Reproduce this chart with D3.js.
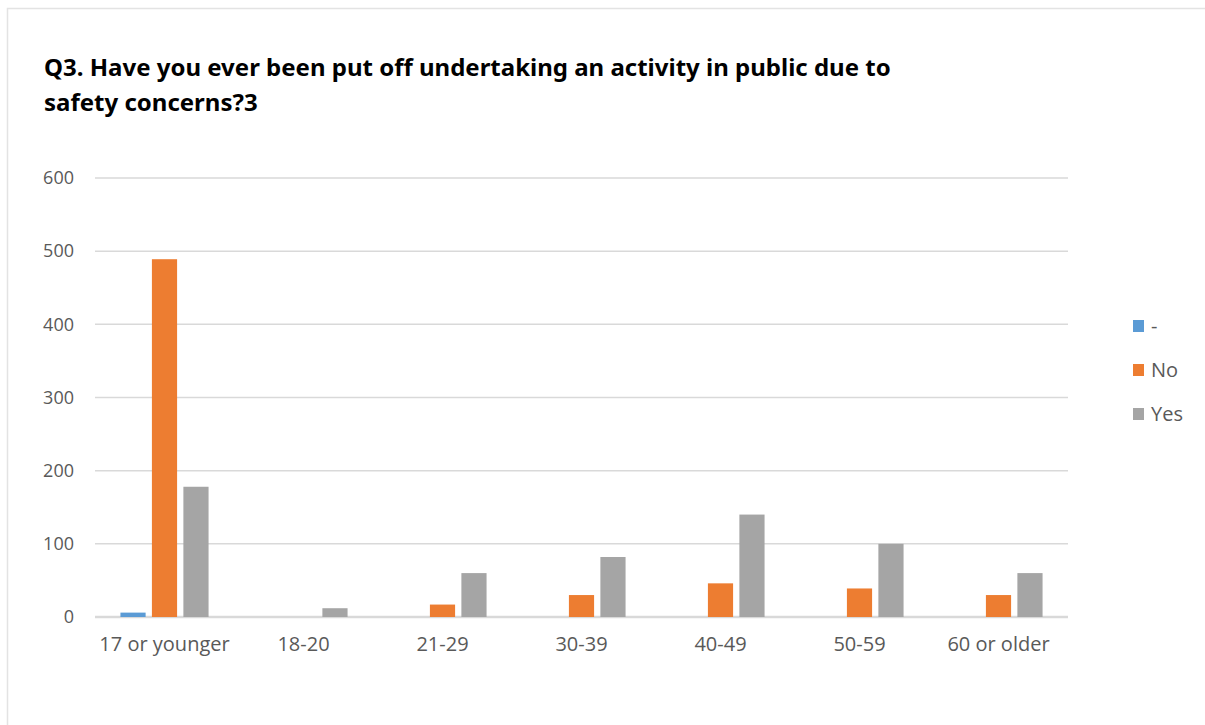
<!DOCTYPE html>
<html>
<head>
<meta charset="utf-8">
<script src="https://cdn.jsdelivr.net/npm/d3@7"></script>
<style>
  body { margin: 0; background: #fff; }
  svg { display: block; }
</style>
</head>
<body>
<div id="chart"></div>
<script>
const ageGroups = ["17 or younger", "18-20", "21-29", "30-39", "40-49", "50-59", "60 or older"];
const seriesNames = ["-", "No", "Yes"];
const dashValues = [6, 0, 0, 0, 0, 0, 0];
const noValues = [489, 0, 17, 30, 46, 39, 30];
const yesValues = [178, 12, 60, 82, 140, 100, 60];
const yTicks = [0, 100, 200, 300, 400, 500, 600];
const colors = ["#5b9bd5", "#ed7d31", "#a5a5a5"];

const series = [dashValues, noValues, yesValues];

const width = 1205, height = 725;
const plot = { left: 95, right: 1068, top: 178, bottom: 617 };

const svg = d3.select("#chart").append("svg")
  .attr("width", width)
  .attr("height", height);

// light frame around the chart area
svg.append("rect")
  .attr("x", 7.5).attr("y", 8.5)
  .attr("width", 1210).attr("height", 730)
  .attr("fill", "none")
  .attr("stroke", "#e3e3e3")
  .attr("stroke-width", 1.5);

// title
svg.append("text")
  .attr("x", 44).attr("y", 76)
  .style("font-family", "'Liberation Sans Narrow', 'Noto Sans', sans-serif")
  .style("font-weight", "bold")
  .style("font-size", "24px")
  .attr("fill", "#000")
  .text("Q3. Have you ever been put off undertaking an activity in public due to");
svg.append("text")
  .attr("x", 44).attr("y", 111)
  .style("font-family", "'Liberation Sans Narrow', 'Noto Sans', sans-serif")
  .style("font-weight", "bold")
  .style("font-size", "24px")
  .attr("fill", "#000")
  .text("safety concerns?3");

const x0 = d3.scaleBand()
  .domain(ageGroups)
  .range([plot.left, plot.right])
  .paddingInner(0.366)
  .paddingOuter(0.183);

const x1 = d3.scaleBand()
  .domain(seriesNames)
  .range([0, x0.bandwidth()])
  .paddingInner(0.2);

const y = d3.scaleLinear()
  .domain([0, 600])
  .range([plot.bottom, plot.top]);

// gridlines
svg.append("g")
  .selectAll("line")
  .data(yTicks)
  .enter()
  .append("line")
  .attr("x1", plot.left)
  .attr("x2", plot.right)
  .attr("y1", d => y(d))
  .attr("y2", d => y(d))
  .attr("stroke", "#d9d9d9")
  .attr("stroke-width", d => d === 0 ? 2.5 : 1.5);

// y axis labels
const yAxis = svg.append("g")
  .attr("transform", `translate(${plot.left - 21},0)`)
  .call(d3.axisLeft(y).tickValues(yTicks).tickSize(0).tickPadding(0));
yAxis.select(".domain").remove();
yAxis.selectAll("text")
  .style("font-family", "'Open Sans', sans-serif")
  .style("font-size", "18px")
  .attr("fill", "#595959");

// bars
const groups = svg.append("g")
  .selectAll("g")
  .data(ageGroups)
  .enter()
  .append("g")
  .attr("transform", d => `translate(${x0(d)},0)`);

groups.selectAll("rect")
  .data((d, i) => series.map((s, j) => ({ name: seriesNames[j], value: s[i], color: colors[j] })))
  .enter()
  .append("rect")
  .filter(d => d.value > 0)
  .attr("x", d => x1(d.name))
  .attr("width", x1.bandwidth())
  .attr("y", d => y(d.value))
  .attr("height", d => y(0) - y(d.value))
  .attr("fill", d => d.color);

// x axis labels
const xAxis = svg.append("g")
  .attr("transform", `translate(0,${plot.bottom + 20})`)
  .call(d3.axisBottom(x0).tickSize(0).tickPadding(0));
xAxis.select(".domain").remove();
xAxis.selectAll("text")
  .attr("dy", "0.71em")
  .style("font-family", "'Open Sans', sans-serif")
  .style("font-size", "20px")
  .attr("fill", "#595959");

// legend
const legend = svg.append("g")
  .selectAll("g")
  .data(seriesNames)
  .enter()
  .append("g")
  .attr("transform", (d, i) => `translate(1133,${320 + i * 44})`);

legend.append("rect")
  .attr("width", 11)
  .attr("height", 12)
  .attr("fill", (d, i) => colors[i]);

legend.append("text")
  .attr("x", 18)
  .attr("y", 6)
  .attr("dy", "0.35em")
  .style("font-family", "'Open Sans', sans-serif")
  .style("font-size", "20px")
  .attr("fill", "#595959")
  .text(d => d);
</script>
</body>
</html>
